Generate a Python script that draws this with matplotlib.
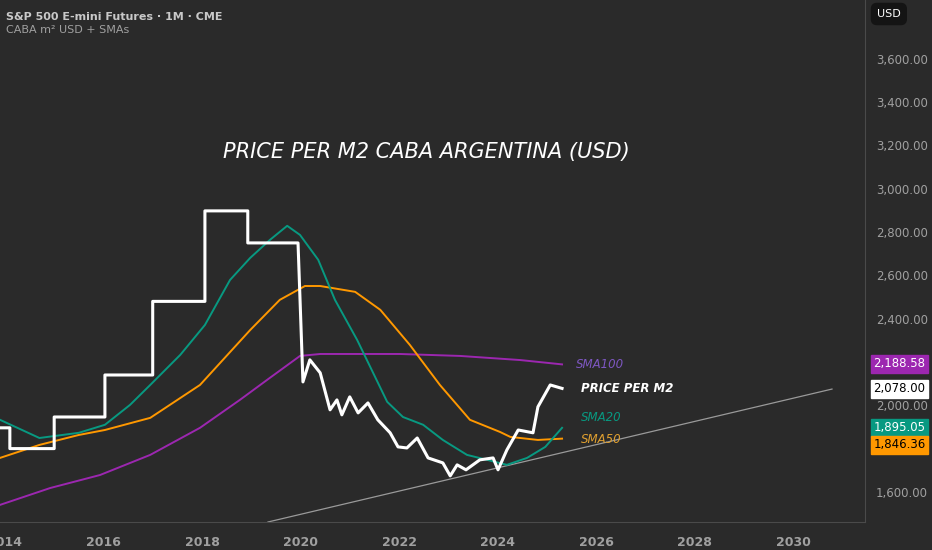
import matplotlib
matplotlib.use("Agg")
import matplotlib.pyplot as plt

# price per m2 (white, step years then monthly)
price_x = [2013.9, 2014.1, 2014.1, 2015.0, 2015.0, 2016.03, 2016.03, 2017.0, 2017.0, 2018.06,
           2018.06, 2018.93, 2018.93, 2019.95, 2020.05, 2020.19, 2020.40, 2020.60, 2020.74,
           2020.84, 2021.0, 2021.17, 2021.37, 2021.57, 2021.82, 2021.98, 2022.16, 2022.37,
           2022.59, 2022.89, 2023.04, 2023.18, 2023.36, 2023.64, 2023.91, 2024.01, 2024.19,
           2024.42, 2024.72, 2024.82, 2025.07, 2025.31]
price_y = [1896, 1896, 1800, 1800, 1946, 1946, 2140, 2140, 2480, 2480,
           2898, 2898, 2750, 2750, 2108, 2210, 2150, 1979, 2025,
           1956, 2039, 1965, 2011, 1933, 1873, 1808, 1803, 1849,
           1757, 1734, 1674, 1725, 1702, 1748, 1757, 1702, 1794,
           1886, 1873, 1993, 2094, 2078]

sma20_x = [2013.9, 2014.7, 2015.5, 2016.03, 2016.54, 2016.95, 2017.56, 2018.06, 2018.57, 2018.98,
           2019.38, 2019.73, 2019.99, 2020.36, 2020.70, 2021.15, 2021.76, 2022.08, 2022.49,
           2022.89, 2023.38, 2023.79, 2024.19, 2024.60, 2024.97, 2025.31]
sma20_y = [1933, 1849, 1873, 1910, 2002, 2094, 2233, 2371, 2579, 2681,
           2764, 2829, 2787, 2672, 2487, 2302, 2016, 1946, 1910,
           1840, 1771, 1748, 1725, 1757, 1808, 1896]

sma50_x = [2013.9, 2014.7, 2015.5, 2016.03, 2016.95, 2017.96, 2018.98, 2019.58, 2020.09, 2020.40,
           2021.11, 2021.62, 2022.22, 2022.83, 2023.44, 2024.05, 2024.26, 2024.82, 2025.31]
sma50_y = [1757, 1817, 1863, 1886, 1942, 2094, 2348, 2487, 2551, 2551,
           2524, 2441, 2279, 2094, 1933, 1877, 1854, 1840, 1846]

sma100_x = [2013.9, 2014.92, 2015.93, 2016.95, 2017.96, 2018.77, 2019.38, 2019.99, 2020.40,
            2022.02, 2023.24, 2024.46, 2025.31]
sma100_y = [1540, 1618, 1678, 1771, 1896, 2025, 2127, 2228, 2237,
            2237, 2228, 2209, 2189]

trend_x = [2019.34, 2030.79]
trend_y = [1461, 2075]

last_vals = [2188.58, 2078.00, 1895.05, 1846.36]
last_pos = [2191.0, 2076.0, 1896.0, 1817.0]
last_cols = ["#9c27b0", "#ffffff", "#089981", "#ff9800"]
last_txt = ["white", "black", "white", "black"]

bg = "#2a2a2a"
fig = plt.figure(figsize=(9.32, 5.5), dpi=100, facecolor=bg)
ax = fig.add_axes([0, 28 / 550, 865 / 932, 522 / 550], facecolor=bg)

ax.plot(trend_x, trend_y, color="#9a9a9a", lw=0.9)
ax.plot(sma100_x, sma100_y, color="#9c27b0", lw=1.4)
ax.plot(sma50_x, sma50_y, color="#ff9800", lw=1.4)
ax.plot(sma20_x, sma20_y, color="#089981", lw=1.4)
ax.plot(price_x, price_y, color="white", lw=2.2)

ax.set_xlim(2013.9, 2031.46)
ax.set_ylim(1461, 3872)

ax.yaxis.tick_right()
yt = [1600, 2000, 2400, 2600, 2800, 3000, 3200, 3400, 3600]
ax.set_yticks(yt)
ax.set_yticklabels([f"{v:,.2f}" for v in yt], color="#a0a0a0", fontsize=8.5)
xt = list(range(2014, 2031, 2))
ax.set_xticks(xt)
ax.set_xticklabels([str(v) for v in xt], color="#a0a0a0", fontsize=9, fontweight="bold")
ax.tick_params(axis="y", length=0, pad=8)
ax.tick_params(axis="x", length=0, pad=10)
for s in ["top", "left"]:
    ax.spines[s].set_visible(False)
ax.spines["right"].set_color("#4a4a4a")
ax.spines["bottom"].set_color("#4a4a4a")

for v, p, c, t in zip(last_vals, last_pos, last_cols, last_txt):
    ax.annotate(f"{v:,.2f}", xy=(1.0, p), xycoords=("axes fraction", "data"),
                xytext=(6, 0), textcoords="offset points", va="center", ha="left",
                fontsize=8.5, color=t,
                bbox=dict(boxstyle="square,pad=0.2", fc=c, ec=c))

ax.text(2025.6, 2188, "SMA100", color="#7e57c2", fontsize=8.5, style="italic", va="center")
ax.text(2025.7, 2078, "PRICE PER M2", color="white", fontsize=8.5, style="italic",
        fontweight="bold", va="center")
ax.text(2025.7, 1944, "SMA20", color="#089981", fontsize=8.5, style="italic", va="center")
ax.text(2025.7, 1843, "SMA50", color="#e0a030", fontsize=8.5, style="italic", va="center")

ax.text(2022.55, 3170, "PRICE PER M2 CABA ARGENTINA (USD)", color="white", fontsize=15,
        style="italic", ha="center", va="center")

fig.text(6 / 932, 1 - 17 / 550, "S&P 500 E-mini Futures · 1M · CME", color="#c8c8c8",
         fontsize=8, fontweight="bold", va="center")
fig.text(6 / 932, 1 - 30 / 550, "CABA m² USD + SMAs", color="#a0a0a0", fontsize=8,
         va="center")
fig.text(877 / 932, 1 - 14 / 550, "USD", color="white", fontsize=8, va="center",
         bbox=dict(boxstyle="round,pad=0.5", fc="#141414", ec="#141414"))

fig.savefig("out.png", dpi=100, facecolor=bg)
